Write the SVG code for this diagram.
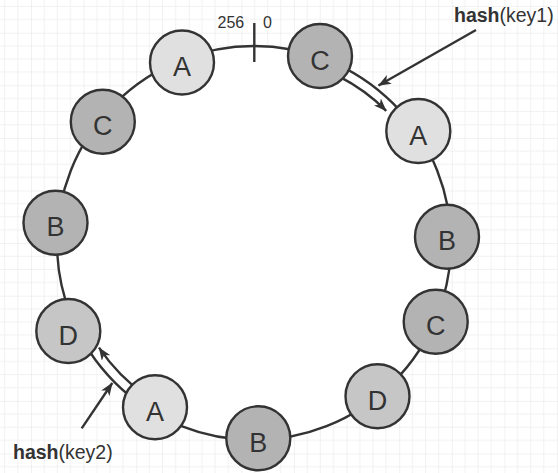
<svg xmlns="http://www.w3.org/2000/svg" width="558" height="473" viewBox="0 0 558 473">
  <defs>
    <pattern id="grid" width="52.6" height="52.6" patternUnits="userSpaceOnUse" x="31" y="32.7">
      <path d="M13.15 0V52.6M26.3 0V52.6M39.45 0V52.6M0 13.15H52.6M0 26.3H52.6M0 39.45H52.6" stroke="#f1f1f1" stroke-width="1" fill="none"/>
      <path d="M0 0V52.6M0 0H52.6" stroke="#e4e4e4" stroke-width="1" fill="none"/>
    </pattern>
    <marker id="arrow" viewBox="0 0 13 10" refX="12.5" refY="5" markerWidth="13" markerHeight="10" orient="auto" markerUnits="userSpaceOnUse">
      <path d="M0,0 L13,5 L0,10 L3.5,5 Z" fill="#333"/>
    </marker>
  </defs>
  <style>
    .ring { fill: #fff; stroke: #333; stroke-width: 2.4; }
    .edge { fill: none; stroke: #333; stroke-width: 2.4; }
    .node circle { stroke: #333; stroke-width: 2.4; }
    .light circle { fill: #e0e0e0; }
    .dark circle { fill: #b3b3b3; }
    .mid circle { fill: #c6c6c6; }
    .node text { font-family: "Liberation Sans", Arial, sans-serif; font-size: 27px; fill: #333; text-anchor: middle; }
    .label { font-family: "Liberation Sans", Arial, sans-serif; fill: #333; }
  </style>

  <!-- background grid -->
  <rect width="558" height="473" fill="#fff"/>
  <rect width="558" height="473" fill="url(#grid)"/>

  <!-- hash ring -->
  <g id="ring">
    <circle class="ring" cx="254" cy="243" r="197"/>
    <line x1="254.3" y1="23" x2="254.3" y2="62" stroke="#333" stroke-width="2.4"/>
    <text class="label" x="217.5" y="27.5" font-size="16">256</text>
    <text class="label" x="263" y="27.5" font-size="16">0</text>
  </g>

  <!-- connectors -->
  <g id="connectors">
    <!-- C to A, clockwise along the ring -->
    <path class="edge" marker-end="url(#arrow)" d="M338.9,76.4 A187,187 0 0 1 386.2,110.8"/>
    <!-- A to D, clockwise along the ring -->
    <path class="edge" marker-end="url(#arrow)" d="M146.7,396.2 A187,187 0 0 1 99,347.6"/>
    <!-- key pointers -->
    <line class="edge" marker-end="url(#arrow)" x1="476" y1="30" x2="378.5" y2="85.5"/>
    <line class="edge" marker-end="url(#arrow)" x1="81.7" y1="428.3" x2="112.3" y2="383"/>
  </g>

  <!-- ring nodes -->
  <g id="node-a1" class="node light"><circle cx="182" cy="62.5" r="32"/><text x="182" y="76">A</text></g>
  <g id="node-c1" class="node dark"><circle cx="320" cy="56" r="32"/><text x="320" y="69.5">C</text></g>
  <g id="node-a2" class="node light"><circle cx="418.3" cy="131" r="32"/><text x="418.3" y="144.5">A</text></g>
  <g id="node-c2" class="node dark"><circle cx="102.8" cy="121.7" r="32"/><text x="102.8" y="135.2">C</text></g>
  <g id="node-b1" class="node dark"><circle cx="55.5" cy="222.7" r="32"/><text x="55.5" y="236.2">B</text></g>
  <g id="node-b2" class="node dark"><circle cx="447" cy="236.7" r="32"/><text x="447" y="250.2">B</text></g>
  <g id="node-c3" class="node dark"><circle cx="435.7" cy="321.7" r="32"/><text x="435.7" y="335.2">C</text></g>
  <g id="node-d1" class="node mid"><circle cx="377.5" cy="396.3" r="32"/><text x="377.5" y="409.8">D</text></g>
  <g id="node-b3" class="node dark"><circle cx="258.3" cy="438.3" r="32"/><text x="258.3" y="451.8">B</text></g>
  <g id="node-a3" class="node light"><circle cx="155" cy="407.3" r="32"/><text x="155" y="420.8">A</text></g>
  <g id="node-d2" class="node mid"><circle cx="68.3" cy="331" r="32"/><text x="68.3" y="344.5">D</text></g>

  <!-- key labels -->
  <g id="key1"><text class="label" x="454" y="22" font-size="19.5"><tspan font-weight="bold">hash</tspan>(key1)</text></g>
  <g id="key2"><text class="label" x="13" y="458.5" font-size="19.5"><tspan font-weight="bold">hash</tspan>(key2)</text></g>
</svg>
